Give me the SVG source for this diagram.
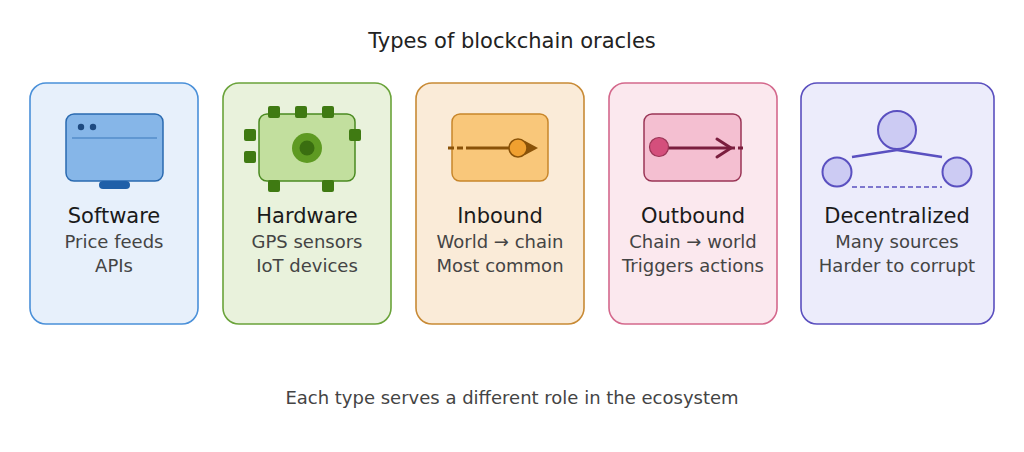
<svg xmlns="http://www.w3.org/2000/svg" width="1024" height="452" viewBox="0 0 1024 452">
<style>
text{font-family:"DejaVu Sans",sans-serif;text-anchor:middle}
.t{font-size:21px;fill:#222}
.n{font-size:21px;fill:#1a1a1a}
.s{font-size:18px;fill:#444}
.card{stroke-width:1.6}
</style>
<rect width="1024" height="452" fill="#fff"/>
<text class="t" x="512" y="48">Types of blockchain oracles</text>
<g id="software">
<rect class="card" x="30" y="83" width="168" height="241" rx="16" fill="#e7f0fb" stroke="#4a90d9"/>
<rect x="66" y="114" width="97" height="67" rx="8" fill="#86b6e8" stroke="#2a6ab0" stroke-width="1.5"/>
<rect x="99" y="181" width="31" height="8" rx="4" fill="#1f5fa8"/>
<circle cx="81" cy="127" r="3.2" fill="#1e4a80"/><circle cx="93" cy="127" r="3.2" fill="#1e4a80"/>
<line x1="72" y1="138" x2="157" y2="138" stroke="#3a78bb" stroke-width="1"/>
<text class="n" x="114" y="223">Software</text>
<text class="s" x="114" y="248">Price feeds</text>
<text class="s" x="114" y="272">APIs</text>
</g>
<g id="hardware">
<rect class="card" x="223" y="83" width="168" height="241" rx="16" fill="#e9f2dc" stroke="#6aa33a"/>
<rect x="259" y="114" width="96" height="67" rx="8" fill="#c2df9e" stroke="#4a8a20" stroke-width="1.5"/>
<g fill="#3f7a12">
<rect x="268" y="106" width="12" height="12" rx="2"/><rect x="295" y="106" width="12" height="12" rx="2"/><rect x="322" y="106" width="12" height="12" rx="2"/>
<rect x="268" y="180" width="12" height="12" rx="2"/><rect x="322" y="180" width="12" height="12" rx="2"/>
<rect x="244" y="129" width="12" height="12" rx="2"/><rect x="244" y="151" width="12" height="12" rx="2"/>
<rect x="349" y="129" width="12" height="12" rx="2"/>
</g>
<circle cx="307" cy="148" r="15" fill="#5e9a22"/><circle cx="307" cy="148" r="7.5" fill="#3a6e10"/>
<text class="n" x="307" y="223">Hardware</text>
<text class="s" x="307" y="248">GPS sensors</text>
<text class="s" x="307" y="272">IoT devices</text>
</g>
<g id="inbound">
<rect class="card" x="416" y="83" width="168" height="241" rx="16" fill="#faebd8" stroke="#c88a35"/>
<rect x="452" y="114" width="96" height="67" rx="8" fill="#f9c77a" stroke="#c8862a" stroke-width="1.5"/>
<line x1="448" y1="148" x2="468" y2="148" stroke="#8a5208" stroke-width="3" stroke-dasharray="6,3"/>
<line x1="468" y1="148" x2="515" y2="148" stroke="#8a5208" stroke-width="3"/>
<polygon points="525,141 538,148 525,155" fill="#8a5208"/>
<circle cx="518" cy="148" r="9" fill="#f0a030" stroke="#8a5208" stroke-width="1.5"/>
<text class="n" x="500" y="223">Inbound</text>
<text class="s" x="500" y="248">World → chain</text>
<text class="s" x="500" y="272">Most common</text>
</g>
<g id="outbound">
<rect class="card" x="609" y="83" width="168" height="241" rx="16" fill="#fbe8ee" stroke="#d4688c"/>
<rect x="644" y="114" width="97" height="67" rx="8" fill="#f4bfd1" stroke="#9a3556" stroke-width="1.5"/>
<line x1="668" y1="148" x2="730" y2="148" stroke="#7a1e3e" stroke-width="3"/>
<line x1="730" y1="148" x2="745" y2="148" stroke="#7a1e3e" stroke-width="3" stroke-dasharray="5,3"/>
<polyline points="717,139 731,148 717,157" fill="none" stroke="#7a1e3e" stroke-width="3" stroke-linecap="round" stroke-linejoin="round"/>
<circle cx="659" cy="147" r="9.5" fill="#d44f7c" stroke="#9a3556" stroke-width="1.2"/>
<text class="n" x="693" y="223">Outbound</text>
<text class="s" x="693" y="248">Chain → world</text>
<text class="s" x="693" y="272">Triggers actions</text>
</g>
<g id="decentralized">
<rect class="card" x="801" y="83" width="193" height="241" rx="16" fill="#ececfb" stroke="#5a4fbf" stroke-width="2"/>
<line x1="852" y1="157" x2="897" y2="150" stroke="#5a50c0" stroke-width="2.5"/>
<line x1="897" y1="150" x2="942" y2="157" stroke="#5a50c0" stroke-width="2.5"/>
<line x1="852" y1="187" x2="942" y2="187" stroke="#5a50c0" stroke-width="1.6" stroke-dasharray="5,3"/>
<circle cx="897" cy="130" r="19" fill="#cccbf3" stroke="#5a50c0" stroke-width="2"/>
<circle cx="837" cy="172" r="14.5" fill="#cccbf3" stroke="#5a50c0" stroke-width="2"/>
<circle cx="957" cy="172" r="14.5" fill="#cccbf3" stroke="#5a50c0" stroke-width="2"/>
<text class="n" x="897" y="223">Decentralized</text>
<text class="s" x="897" y="248">Many sources</text>
<text class="s" x="897" y="272">Harder to corrupt</text>
</g>
<text class="s" x="512" y="404">Each type serves a different role in the ecosystem</text>
</svg>
